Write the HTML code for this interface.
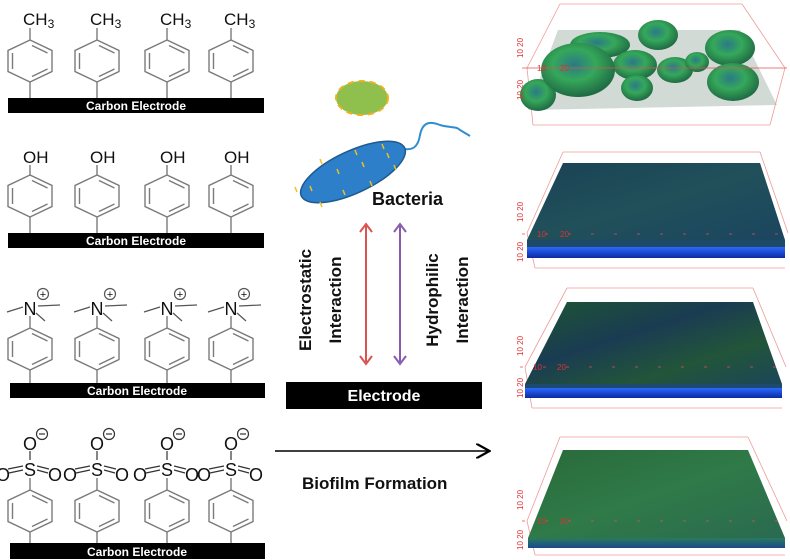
<!DOCTYPE html>
<html><head><meta charset="utf-8"><style>
html,body{margin:0;padding:0;background:#fff;}
svg{display:block;}
.t{font-family:"Liberation Sans",sans-serif;}
</style></head><body>
<svg width="790" height="560" viewBox="0 0 790 560" xmlns="http://www.w3.org/2000/svg">
<defs>
<g id="ring" fill="none" stroke="#7a7a7a" stroke-width="1.4">
<polygon points="0,-21 22,-10.5 22,10.5 0,21 -22,10.5 -22,-10.5"/>
<line x1="-17.5" y1="-8" x2="-17.5" y2="8"/>
<line x1="2" y1="-15.5" x2="17.5" y2="-8"/>
<line x1="17.5" y1="8" x2="2" y2="15.5"/>
</g>
<radialGradient id="blob" cx="0.45" cy="0.4" r="0.65">
<stop offset="0" stop-color="#2a7a86"/><stop offset="0.45" stop-color="#35a85a"/><stop offset="1" stop-color="#1c6040"/>
</radialGradient>
<linearGradient id="surf2" x1="0" y1="0" x2="1" y2="1">
<stop offset="0" stop-color="#1a4255"/><stop offset="0.5" stop-color="#21505a"/><stop offset="1" stop-color="#1b4560"/>
</linearGradient>
<linearGradient id="surf3" x1="0" y1="0" x2="1" y2="1">
<stop offset="0" stop-color="#1d5532"/><stop offset="0.4" stop-color="#1a3c52"/><stop offset="0.7" stop-color="#22553a"/><stop offset="1" stop-color="#1b4658"/>
</linearGradient>
<linearGradient id="surf4" x1="0" y1="0" x2="1" y2="1">
<stop offset="0" stop-color="#2a6a3a"/><stop offset="0.5" stop-color="#2f7a48"/><stop offset="1" stop-color="#2a6a50"/>
</linearGradient>
<linearGradient id="front" x1="0" y1="0" x2="0" y2="1">
<stop offset="0" stop-color="#2a6aff"/><stop offset="1" stop-color="#0a2aa0"/>
</linearGradient>
<linearGradient id="front4" x1="0" y1="0" x2="0" y2="1">
<stop offset="0" stop-color="#2a7a60"/><stop offset="1" stop-color="#1a4a8a"/>
</linearGradient>
<marker id="ar" markerWidth="10" markerHeight="10" refX="8" refY="5" orient="auto"><path d="M0,0 L9,5 L0,10" fill="none" stroke="#000" stroke-width="1.5"/></marker>
</defs>

<g>
<use href="#ring" x="30" y="61"/><use href="#ring" x="97" y="61"/><use href="#ring" x="167" y="61"/><use href="#ring" x="231" y="61"/>
<use href="#ring" x="30" y="196"/><use href="#ring" x="97" y="196"/><use href="#ring" x="167" y="196"/><use href="#ring" x="231" y="196"/>
<use href="#ring" x="30" y="349"/><use href="#ring" x="97" y="349"/><use href="#ring" x="167" y="349"/><use href="#ring" x="231" y="349"/>
<use href="#ring" x="30" y="511"/><use href="#ring" x="97" y="511"/><use href="#ring" x="167" y="511"/><use href="#ring" x="231" y="511"/>
</g>
<g stroke="#7a7a7a" stroke-width="1.4">
<line x1="30" y1="82" x2="30" y2="98"/><line x1="97" y1="82" x2="97" y2="98"/><line x1="167" y1="82" x2="167" y2="98"/><line x1="231" y1="82" x2="231" y2="98"/>
<line x1="30" y1="217" x2="30" y2="233"/><line x1="97" y1="217" x2="97" y2="233"/><line x1="167" y1="217" x2="167" y2="233"/><line x1="231" y1="217" x2="231" y2="233"/>
<line x1="30" y1="370" x2="30" y2="383"/><line x1="97" y1="370" x2="97" y2="383"/><line x1="167" y1="370" x2="167" y2="383"/><line x1="231" y1="370" x2="231" y2="383"/>
<line x1="30" y1="532" x2="30" y2="543"/><line x1="97" y1="532" x2="97" y2="543"/><line x1="167" y1="532" x2="167" y2="543"/><line x1="231" y1="532" x2="231" y2="543"/>
<line x1="30" y1="40" x2="30" y2="28"/><line x1="97" y1="40" x2="97" y2="28"/><line x1="167" y1="40" x2="167" y2="28"/><line x1="231" y1="40" x2="231" y2="28"/>
<line x1="30" y1="175" x2="30" y2="165"/><line x1="97" y1="175" x2="97" y2="165"/><line x1="167" y1="175" x2="167" y2="165"/><line x1="231" y1="175" x2="231" y2="165"/>
<line x1="30" y1="328" x2="30" y2="316"/><line x1="97" y1="328" x2="97" y2="316"/><line x1="167" y1="328" x2="167" y2="316"/><line x1="231" y1="328" x2="231" y2="316"/>
<line x1="30" y1="490" x2="30" y2="478"/><line x1="97" y1="490" x2="97" y2="478"/><line x1="167" y1="490" x2="167" y2="478"/><line x1="231" y1="490" x2="231" y2="478"/>
</g>
<g class="t" font-size="17" fill="#111">
<text x="23" y="25">CH<tspan font-size="12" dy="3">3</tspan></text>
<text x="90" y="25">CH<tspan font-size="12" dy="3">3</tspan></text>
<text x="160" y="25">CH<tspan font-size="12" dy="3">3</tspan></text>
<text x="224" y="25">CH<tspan font-size="12" dy="3">3</tspan></text>
<text x="23" y="163">OH</text><text x="90" y="163">OH</text><text x="160" y="163">OH</text><text x="224" y="163">OH</text>
</g>
<g id="nplus">
<g stroke="#555" stroke-width="1.2" fill="none">
<line x1="7" y1="312" x2="23" y2="307"/><line x1="38" y1="306" x2="60" y2="305"/><line x1="36" y1="313" x2="45" y2="321"/>
<circle cx="43" cy="294" r="5.5"/>
</g>
<text class="t" x="30" y="315" font-size="18" text-anchor="middle" fill="#111">N</text>
<text class="t" x="43" y="298" font-size="11" text-anchor="middle" fill="#111">+</text>
</g>
<use href="#nplus" x="67"/><use href="#nplus" x="137"/><use href="#nplus" x="201"/>
<g id="so3">
<g stroke="#333" stroke-width="1.2" fill="none">
<circle cx="42" cy="434" r="5.5"/><line x1="39" y1="434" x2="45" y2="434"/>
<line x1="30" y1="451" x2="30" y2="460"/>
<line x1="8" y1="469" x2="23" y2="466"/><line x1="9" y1="473" x2="23" y2="470"/>
<line x1="37" y1="466" x2="49" y2="469"/><line x1="37" y1="470" x2="48" y2="473"/>
</g>
<text class="t" x="30" y="450" font-size="18" text-anchor="middle" fill="#111">O</text>
<text class="t" x="30" y="476" font-size="18" text-anchor="middle" fill="#111">S</text>
<text class="t" x="3" y="481" font-size="18" text-anchor="middle" fill="#111">O</text>
<text class="t" x="55" y="481" font-size="18" text-anchor="middle" fill="#111">O</text>
</g>
<use href="#so3" x="67"/><use href="#so3" x="137"/><use href="#so3" x="201"/>
<g fill="#000">
<rect x="8" y="98" width="256" height="15"/><rect x="8" y="233" width="256" height="15"/>
<rect x="10" y="383" width="255" height="15"/><rect x="10" y="543" width="255" height="16"/>
</g>
<g class="t" font-size="12" font-weight="bold" fill="#fff" text-anchor="middle">
<text x="136" y="110">Carbon Electrode</text><text x="136" y="245">Carbon Electrode</text>
<text x="137" y="395">Carbon Electrode</text><text x="137" y="556">Carbon Electrode</text>
</g>

<ellipse cx="362" cy="98" rx="26" ry="17" fill="#8fbf4c" stroke="#f0b020" stroke-width="2" stroke-dasharray="6 5"/>
<path d="M404,149 C412,150 418,148 420,135 C423,120 432,122 440,125 C450,128 456,126 460,130 L470,136" fill="none" stroke="#2e8fd0" stroke-width="2"/>
<ellipse cx="353" cy="172" rx="57" ry="21" transform="rotate(-25 353 172)" fill="#2c7fc8" stroke="#1d5a90" stroke-width="1.5"/>
<g stroke="#f0c020" stroke-width="1.5">
<line x1="320" y1="159" x2="322" y2="164"/><line x1="355" y1="150" x2="357" y2="155"/><line x1="382" y1="144" x2="384" y2="149"/>
<line x1="337" y1="169" x2="339" y2="174"/><line x1="362" y1="162" x2="364" y2="167"/><line x1="387" y1="153" x2="389" y2="158"/>
<line x1="310" y1="186" x2="312" y2="191"/><line x1="343" y1="190" x2="345" y2="195"/><line x1="320" y1="202" x2="322" y2="207"/>
<line x1="295" y1="187" x2="297" y2="192"/><line x1="370" y1="181" x2="372" y2="186"/><line x1="394" y1="165" x2="396" y2="170"/>
</g>
<text class="t" x="372" y="205" font-size="18" font-weight="bold" fill="#111">Bacteria</text>
<g stroke="#d9534f" stroke-width="2" fill="none">
<line x1="366" y1="226" x2="366" y2="362"/><path d="M360,232 L366,224 L372,232"/><path d="M360,356 L366,364 L372,356"/>
</g>
<g stroke="#8a5ab0" stroke-width="2" fill="none">
<line x1="400" y1="226" x2="400" y2="362"/><path d="M394,232 L400,224 L406,232"/><path d="M394,356 L400,364 L406,356"/>
</g>
<g class="t" font-size="17" font-weight="bold" fill="#111" text-anchor="middle">
<text transform="translate(311,300) rotate(-90)">Electrostatic</text>
<text transform="translate(341,300) rotate(-90)">Interaction</text>
<text transform="translate(438,300) rotate(-90)">Hydrophilic</text>
<text transform="translate(468,300) rotate(-90)">Interaction</text>
</g>
<rect x="286" y="382" width="196" height="27" fill="#000"/>
<text class="t" x="384" y="401" font-size="16" font-weight="bold" fill="#fff" text-anchor="middle">Electrode</text>
<line x1="275" y1="451" x2="488" y2="451" stroke="#000" stroke-width="1.5" marker-end="url(#ar)"/>
<text class="t" x="302" y="489" font-size="17" font-weight="bold" fill="#111">Biofilm Formation</text>

<g stroke="#f09a9a" stroke-width="0.8" fill="none">
<line x1="560" y1="4" x2="742" y2="4"/><line x1="560" y1="4" x2="527" y2="68"/><line x1="742" y1="4" x2="785" y2="68"/>
<line x1="533" y1="125" x2="770" y2="125"/><line x1="527" y1="68" x2="533" y2="125"/><line x1="785" y1="68" x2="770" y2="125"/>
</g>
<polygon points="558,30 740,30 777,105 528,110" fill="#9aaea2" opacity="0.45"/>
<g fill="url(#blob)">
<ellipse cx="600" cy="45" rx="30" ry="13"/>
<ellipse cx="658" cy="35" rx="20" ry="15"/>
<ellipse cx="730" cy="48" rx="25" ry="18"/>
<ellipse cx="635" cy="65" rx="22" ry="15"/>
<ellipse cx="675" cy="70" rx="18" ry="13"/>
<ellipse cx="697" cy="62" rx="12" ry="10"/>
<ellipse cx="637" cy="88" rx="16" ry="13"/>
<ellipse cx="733" cy="82" rx="26" ry="19"/>
<ellipse cx="538" cy="95" rx="18" ry="16"/>
<ellipse cx="578" cy="70" rx="37" ry="27"/>
</g>
<line x1="522" y1="68" x2="787" y2="68" stroke="#e05050" stroke-width="0.8"/>

<g stroke="#f09a9a" stroke-width="0.8" fill="none">
<line x1="563" y1="152" x2="760" y2="152"/><line x1="563" y1="152" x2="527" y2="233"/><line x1="760" y1="152" x2="788" y2="233"/>
<line x1="535" y1="268" x2="785" y2="268"/><line x1="527" y1="233" x2="535" y2="268"/>
</g>
<polygon points="563,163 760,163 785,240 527,240" fill="url(#surf2)"/>
<rect x="527" y="240" width="258" height="7" fill="#1d4a66"/>
<rect x="527" y="247" width="258" height="11" fill="url(#front)"/>
<line x1="522" y1="234" x2="788" y2="234" stroke="#e05050" stroke-width="0.8" stroke-dasharray="3 20"/>

<g stroke="#f09a9a" stroke-width="0.8" fill="none">
<line x1="567" y1="288" x2="753" y2="288"/><line x1="567" y1="288" x2="525" y2="367"/><line x1="753" y1="288" x2="786" y2="367"/>
<line x1="532" y1="408" x2="782" y2="408"/><line x1="525" y1="367" x2="532" y2="408"/>
</g>
<polygon points="567,302 753,302 782,384 525,384" fill="url(#surf3)"/>
<rect x="525" y="384" width="257" height="5" fill="#1d4a70"/>
<rect x="525" y="388" width="257" height="10" fill="url(#front)"/>
<line x1="520" y1="367" x2="786" y2="367" stroke="#e05050" stroke-width="0.8" stroke-dasharray="3 20"/>

<g stroke="#f09a9a" stroke-width="0.8" fill="none">
<line x1="560" y1="437" x2="748" y2="437"/><line x1="560" y1="437" x2="527" y2="521"/><line x1="748" y1="437" x2="787" y2="521"/>
<line x1="535" y1="555" x2="785" y2="555"/><line x1="527" y1="521" x2="535" y2="555"/>
</g>
<polygon points="563,450 748,450 785,538 528,538" fill="url(#surf4)"/>
<rect x="528" y="538" width="257" height="10" fill="url(#front4)"/>
<line x1="522" y1="521" x2="787" y2="521" stroke="#e05050" stroke-width="0.8" stroke-dasharray="3 20"/>

<g class="t" font-size="8" fill="#e03030">
<text transform="translate(523,58) rotate(-90)">10 20</text><text transform="translate(523,100) rotate(-90)">10 20</text>
<text transform="translate(523,222) rotate(-90)">10 20</text><text transform="translate(523,262) rotate(-90)">10 20</text>
<text transform="translate(523,356) rotate(-90)">10 20</text><text transform="translate(523,398) rotate(-90)">10 20</text>
<text transform="translate(523,510) rotate(-90)">10 20</text><text transform="translate(523,550) rotate(-90)">10 20</text>
<text x="537" y="71">10</text><text x="560" y="71">20</text>
<text x="537" y="237">10</text><text x="560" y="237">20</text>
<text x="533" y="370">10</text><text x="557" y="370">20</text>
<text x="537" y="524">10</text><text x="560" y="524">20</text>
</g>
</svg>
</body></html>
